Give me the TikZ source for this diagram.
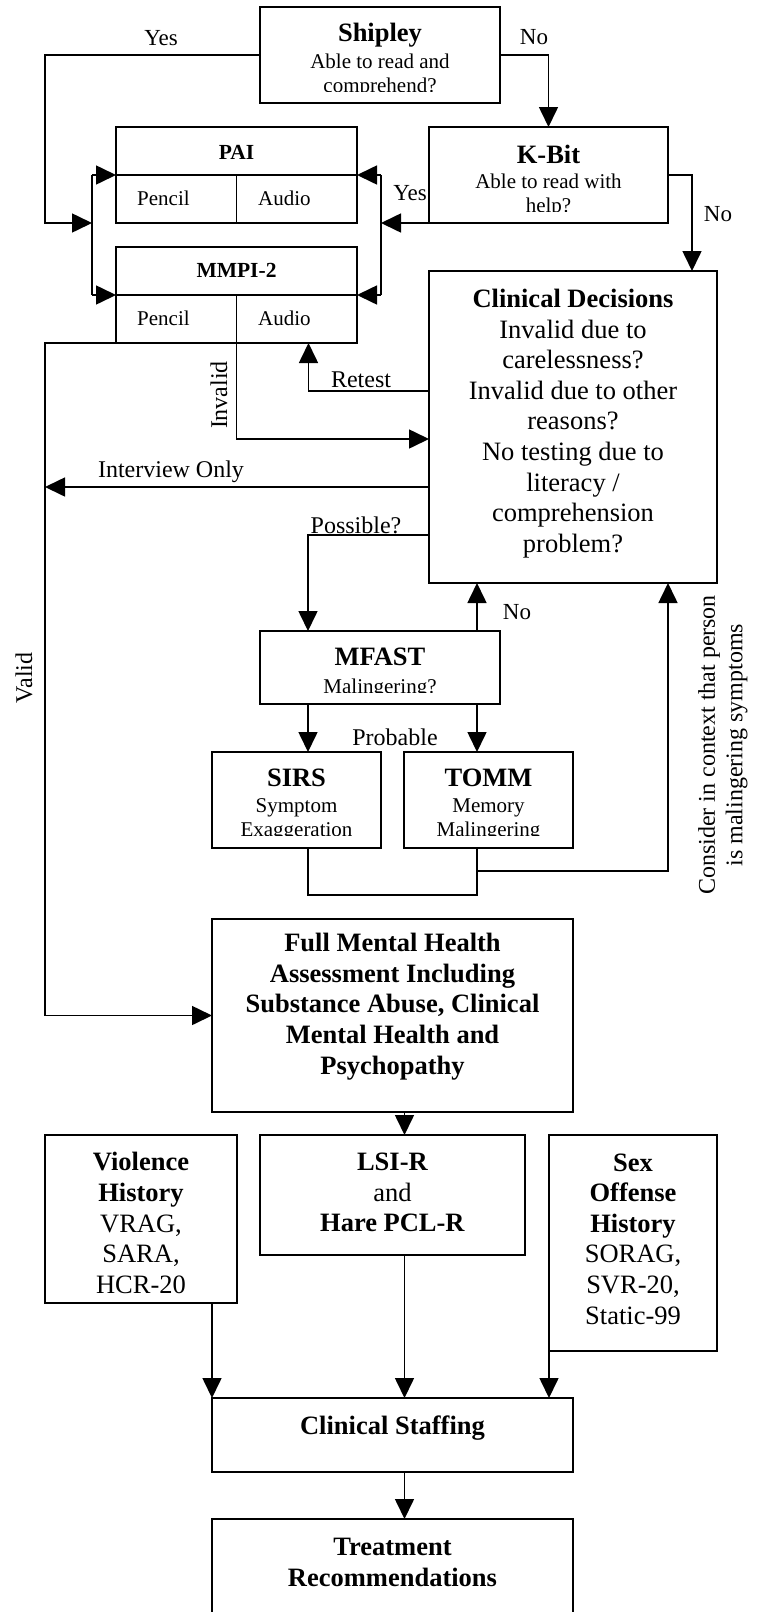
\documentclass[tikz,border=0pt]{standalone}
\usepackage{fontspec}
\setmainfont{Liberation Serif}
\usetikzlibrary{arrows.meta}
\begin{document}
\begin{tikzpicture}[x=1pt,y=-1pt,
  boxs/.style={draw, line width=2.1pt, inner sep=0pt, outer sep=0pt},
  conn/.style={line width=1.6pt},
  arr/.style={conn, -{Triangle[length=20pt,width=19pt]}},
  lab/.style={inner sep=0pt, font=\fontsize{24}{27.5}\selectfont, align=center},
  labs/.style={inner sep=0pt, font=\fontsize{23}{26}\selectfont},
  ttl/.style={inner sep=0pt, font=\bfseries\fontsize{26.5}{30.7}\selectfont, align=center},
  body/.style={inner sep=0pt, font=\fontsize{26.5}{30.6}\selectfont, align=center},
  small/.style={inner sep=0pt, anchor=base, font=\fontsize{21}{24}\selectfont},
  cell/.style={inner sep=0pt, anchor=west, font=\fontsize{21}{22}\selectfont},
  ctl/.style={inner sep=0pt, font=\bfseries\fontsize{21.5}{24}\selectfont}]
\fill[white] (0,0) rectangle (760,1612);
\useasboundingbox (0,0) rectangle (760,1612);

% boxes
\node[boxs, minimum width=240pt, minimum height=96pt] (shipley) at (380,55) {};
\node[boxs, minimum width=241pt, minimum height=96pt] (pai) at (236.5,175) {};
\node[boxs, minimum width=241pt, minimum height=96pt] (mmpi) at (236.5,295) {};
\node[boxs, minimum width=239pt, minimum height=96pt] (kbit) at (548.5,175) {};
\node[boxs, minimum width=288pt, minimum height=312pt] (clin) at (573,427) {};
\node[boxs, minimum width=240pt, minimum height=73pt] (mfast) at (380,667.5) {};
\node[boxs, minimum width=169pt, minimum height=96pt] (sirs) at (296.5,800) {};
\node[boxs, minimum width=169pt, minimum height=96pt] (tomm) at (488.5,800) {};
\node[boxs, minimum width=361pt, minimum height=193pt] (fmha) at (392.5,1015.5) {};
\node[boxs, minimum width=192pt, minimum height=168pt] (viol) at (141,1219) {};
\node[boxs, minimum width=265pt, minimum height=120pt] (lsi) at (392.5,1195) {};
\node[boxs, minimum width=168pt, minimum height=216pt] (sex) at (633,1243) {};
\node[boxs, minimum width=361pt, minimum height=74pt] (staff) at (392.5,1435) {};
\node[boxs, minimum width=361pt, minimum height=120pt] (treat) at (392.5,1579) {};

% table dividers
\draw[conn] (pai.west) -- (pai.east);
\draw[conn] (pai.center) -- (pai.south);
\draw[conn] (mmpi.west) -- (mmpi.east);
\draw[conn] (mmpi.center) -- (mmpi.south);

% box texts
\node[ttl] (shipT) at (380,35) {Shipley};
\begin{scope}
  \clip ([yshift=11.5pt]shipley.south west) rectangle (shipley.north east);
  \node[small] (shipS1) at (380,68.3) {Able to read and};
  \node[small] (shipS2) at (380,92.3) {comprehend?};
\end{scope}
\node[ctl] (paiT) at (236.5,152) {PAI};
\node[cell] (paiP) at (137,198) {Pencil};
\node[cell] (paiA) at (258,198) {Audio};
\node[ctl] (mmpiT) at (236.5,270) {MMPI-2};
\node[cell] (mmpiP) at (137,318) {Pencil};
\node[cell] (mmpiA) at (258,318) {Audio};
\node[ttl] (kbitT) at (548.5,154) {K-Bit};
\begin{scope}
  \clip ([yshift=12pt]kbit.south west) rectangle (kbit.north east);
  \node[small] (kbitS1) at (548.5,188.3) {Able to read with};
  \node[small] (kbitS2) at (548.5,212.3) {help?};
\end{scope}
\node[body] (clinT) at (573,423.5) {\textbf{Clinical Decisions}\\Invalid due to\\carelessness?\\Invalid due to other\\reasons?\\No testing due to\\literacy /\\comprehension\\problem?};
\node[ttl] (mfastT) at (380,657) {MFAST};
\begin{scope}
  \clip ([yshift=12pt]mfast.south west) rectangle (mfast.north east);
  \node[small] (mfastS) at (380,693) {Malingering?};
\end{scope}
\node[ttl] (sirsT) at (296.5,778) {SIRS};
\node[ttl] (tommT) at (488.5,778) {TOMM};
\begin{scope}
  \clip ([yshift=13pt]sirs.south west) rectangle (tomm.north east);
  \node[small] (sirsS1) at (296.5,812.7) {Symptom};
  \node[small] (sirsS2) at (296.5,836.7) {Exaggeration};
  \node[small] (tommS1) at (488.5,812.7) {Memory};
  \node[small] (tommS2) at (488.5,836.7) {Malingering};
\end{scope}
\node[ttl] (fmhaT) at (392.5,1006.5) {Full Mental Health\\Assessment Including\\Substance Abuse, Clinical\\Mental Health and\\Psychopathy};
\node[body] (violT) at (141,1223) {\textbf{Violence}\\\textbf{History}\\VRAG,\\SARA,\\HCR-20};
\node[body] (lsiT) at (392.5,1192.5) {\textbf{LSI-R}\\and\\\textbf{Hare PCL-R}};
\node[body] (sexT) at (633,1239) {\textbf{Sex}\\\textbf{Offense}\\\textbf{History}\\SORAG,\\SVR-20,\\Static-99};
\node[ttl] (staffT) at (392.5,1428) {Clinical Staffing};
\node[ttl] (treatT) at (392.5,1562.5) {Treatment\\Recommendations};

% helper coordinates
\coordinate (yc) at (45,223);
\coordinate (lbm) at (92,223);
\coordinate (lb1) at (92,175);
\coordinate (lb2) at (92,295);
\coordinate (rb1) at (381,175);
\coordinate (rb2) at (381,295);
\coordinate (rbm) at (381,223);
\coordinate (vl) at (45,343);
\coordinate (io) at (45,487);
\coordinate (jn) at (477,895);
\coordinate (cs) at (477,871);
\coordinate (mfno) at ([xshift=97pt]mfast.north);
\coordinate (ms1) at ([xshift=-72pt]mfast.south);
\coordinate (ms2) at ([xshift=97pt]mfast.south);
\coordinate (fl) at ([xshift=12pt]fmha.south);
\coordinate (ls) at ([xshift=12pt]lsi.south);
\coordinate (st) at ([xshift=12pt]staff.south);

% connectors
\draw[arr] (shipley.west) -| (yc) -- (lbm);
\draw[conn] (lb1) -- (lb2);
\draw[arr] (lb1) -- (pai.west);
\draw[arr] (lb2) -- (mmpi.west);
\draw[conn] (rb1) -- (rb2);
\draw[arr] (rb1) -- (pai.east);
\draw[arr] (rb2) -- (mmpi.east);
\draw[arr] (kbit.south west) -- (rbm);
\draw[arr] (shipley.east) -| (kbit.north);
\draw[arr] (kbit.east) -| ([xshift=-25pt]clin.north east);
\draw[arr] (mmpi.south west) -- (vl) |- (fmha.west);
\draw[arr] (mmpi.south) |- ([yshift=-12pt]clin.west);
\draw[arr] ([yshift=36pt]clin.west) -| ([xshift=72pt]mmpi.south);
\draw[arr] ([yshift=-60pt]clin.west) -- (io);
\draw[arr] ([yshift=-108pt]clin.west) -| ([xshift=-72pt]mfast.north);
\draw[arr] (mfno) -- (mfno |- clin.south);
\draw[arr] (ms1) -- (ms1 |- sirs.north);
\draw[arr] (ms2) -- (ms2 |- tomm.north);
\draw[conn] (ms1 |- sirs.south) |- (jn) -- (ms2 |- tomm.south);
\draw[arr] (cs) -| ([xshift=-49pt]clin.south east);
\draw[arr] (fl) -- (fl |- lsi.north);
\draw[arr] (staff.north west |- viol.south) -- (staff.north west);
\draw[arr] (ls) -- (ls |- staff.north);
\draw[arr] (sex.south west) -- (sex.south west |- staff.north);
\draw[arr] (st) -- (st |- treat.north);

% connector labels
\node[labs] (lyes1) at (161,38) {Yes};
\node[labs] (lno1) at (534,37) {No};
\node[labs] (lyes2) at (410,193) {Yes};
\node[labs] (lno2) at (718,214) {No};
\node[lab, rotate=90] (linv) at (219,395) {Invalid};
\node[lab] (lret) at (361,380) {Retest};
\node[lab] (lint) at (171,472) {Interview Only};
\node[lab] (lpos) at (356,525) {Possible?};
\node[labs] (lno3) at (517,612) {No};
\node[lab] (lprob) at (395,737) {Probable};
\node[lab, rotate=90] (lval) at (24,678) {Valid};
\node[lab, rotate=90] (lcons) at (723,745) {Consider in context that person\\is malingering symptoms};
\end{tikzpicture}
\end{document}
